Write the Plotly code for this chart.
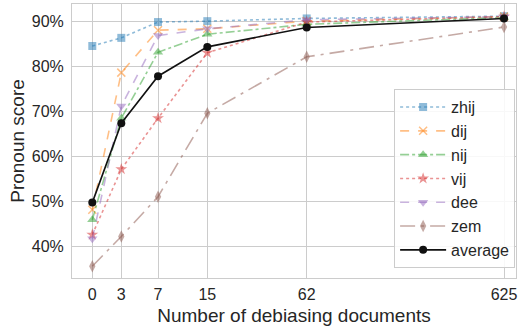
import plotly.graph_objects as go

# ---- data ----
n_docs = [0, 3, 7, 15, 62, 625]
tick_labels = ["0", "3", "7", "15", "62", "625"]
# display coordinate of each document count on the (non-uniform) x scale
x_scale_pos = [0, 1, 2.266, 3.966, 7.393, 14.197]

y_ticks = [40, 50, 60, 70, 80, 90]
y_tick_labels = ["40%", "50%", "60%", "70%", "80%", "90%"]

zhij = [84.5, 86.3, 89.8, 90.0, 90.6, 91.1]
dij = [48.2, 78.6, 88.0, 88.3, 90.0, 91.0]
nij = [46.0, 68.5, 83.1, 87.1, 89.3, 90.8]
vij = [42.7, 57.2, 68.5, 83.0, 89.8, 91.0]
dee = [41.8, 71.2, 86.8, 88.3, 90.3, 91.0]
zem = [35.7, 42.3, 51.1, 69.6, 82.1, 88.7]
average = [49.8, 67.4, 77.8, 84.3, 88.6, 90.6]

series = [
    ("zhij", zhij, "rgba(31,119,180,0.5)", "dot", "square", 8),
    ("dij", dij, "rgba(255,127,14,0.5)", "dash", "x-thin", 8),
    ("nij", nij, "rgba(44,160,44,0.5)", "dashdot", "triangle-up", 9),
    ("vij", vij, "rgba(214,39,40,0.5)", "dot", "star", 9),
    ("dee", dee, "rgba(148,103,189,0.5)", "dash", "triangle-down", 9),
    ("zem", zem, "rgba(140,86,75,0.5)", "longdashdot", "diamond-tall", 9),
    ("average", average, "#111111", "solid", "circle", 8),
]

def xpos(n):
    return x_scale_pos[n_docs.index(n)]

fig = go.Figure()
for name, vals, color, dash, symbol, size in series:
    mk = dict(symbol=symbol, size=size, color=color)
    if symbol == "x-thin":
        mk["line"] = dict(color=color, width=1.5)
    else:
        mk["line"] = dict(width=0)
    fig.add_trace(go.Scatter(
        x=[xpos(n) for n in n_docs], y=vals, name=name, mode="lines+markers",
        line=dict(color=color, dash=dash, width=1.6), marker=mk,
    ))

fig.update_layout(
    width=519, height=326,
    margin=dict(l=72, r=3, t=4, b=48, autoexpand=False),
    paper_bgcolor="white", plot_bgcolor="white",
    font=dict(family="Liberation Sans, Arial, sans-serif", size=16, color="#262626"),
    showlegend=True,
    legend=dict(
        x=0.998, y=0.036, xanchor="right", yanchor="bottom",
        bgcolor="rgba(255,255,255,0.85)", bordercolor="#cccccc", borderwidth=1,
        font=dict(size=16), itemwidth=46,
    ),
)
fig.update_xaxes(
    range=[-0.7, 14.61], automargin=False,
    tickmode="array", tickvals=x_scale_pos, ticktext=tick_labels,
    showgrid=True, gridcolor="#cccccc", gridwidth=1,
    showline=True, linecolor="#cccccc", mirror=True, zeroline=False,
    ticks="", ticklabelstandoff=2,
    title=dict(text="Number of debiasing documents", standoff=9),
)
fig.update_yaxes(
    range=[33.1, 93.8], automargin=False,
    tickmode="array", tickvals=y_ticks, ticktext=y_tick_labels,
    showgrid=True, gridcolor="#cccccc", gridwidth=1,
    showline=True, linecolor="#cccccc", mirror=True, zeroline=False,
    ticks="", ticklabelstandoff=4,
    title=dict(text="Pronoun score", standoff=2),
)
fig.write_html("out.html", post_script="document.body.style.margin='0';",
               config={"displayModeBar": False})
